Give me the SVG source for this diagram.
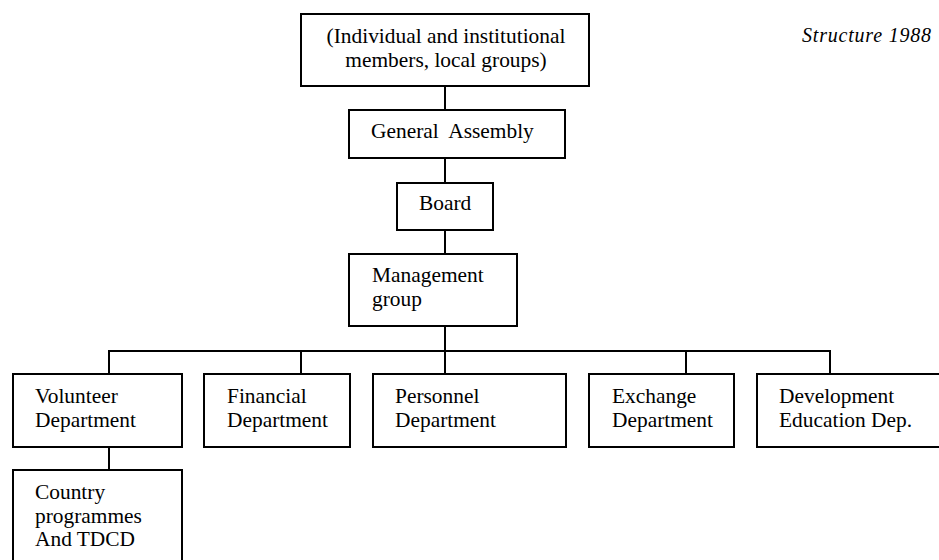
<svg xmlns="http://www.w3.org/2000/svg" width="939" height="560" viewBox="0 0 939 560">
  <style>
    .box { fill: #ffffff; stroke: #000000; stroke-width: 2; }
    .lbl { font-family: "Liberation Serif", "Times New Roman", serif; font-size: 21.4px; fill: #000000; }
    .mid { text-anchor: middle; }
    .wire { fill: none; stroke: #000000; stroke-width: 2; }
    .note { font-family: "Liberation Serif", "Times New Roman", serif; font-style: italic; font-size: 20px; fill: #000000; }
  </style>
  <rect width="939" height="560" fill="#ffffff"/>

  <g id="connectors">
    <line class="wire" x1="445" y1="86" x2="445" y2="110"/>
    <line class="wire" x1="445" y1="158" x2="445" y2="183"/>
    <line class="wire" x1="445" y1="230" x2="445" y2="254"/>
    <line class="wire" x1="445" y1="326" x2="445" y2="351"/>
    <line class="wire" x1="109" y1="351" x2="830" y2="351"/>
    <line class="wire" x1="109" y1="350" x2="109" y2="374"/>
    <line class="wire" x1="301" y1="351" x2="301" y2="374"/>
    <line class="wire" x1="445" y1="351" x2="445" y2="374"/>
    <line class="wire" x1="686" y1="351" x2="686" y2="374"/>
    <line class="wire" x1="830" y1="350" x2="830" y2="374"/>
    <line class="wire" x1="109" y1="447" x2="109" y2="470"/>
  </g>

  <g id="members">
    <rect class="box" x="301" y="14" width="288" height="72"/>
    <text class="lbl mid" x="446" y="43">(Individual and institutional</text>
    <text class="lbl mid" x="446" y="67">members, local groups)</text>
  </g>

  <g id="general-assembly">
    <rect class="box" x="349" y="110" width="216" height="48"/>
    <text class="lbl" x="371" y="138">General&#160; Assembly</text>
  </g>

  <g id="board">
    <rect class="box" x="397" y="183" width="96" height="47"/>
    <text class="lbl" x="419" y="210">Board</text>
  </g>

  <g id="management">
    <rect class="box" x="349" y="254" width="168" height="72"/>
    <text class="lbl" x="372" y="282">Management</text>
    <text class="lbl" x="372" y="306">group</text>
  </g>

  <g id="volunteer">
    <rect class="box" x="13" y="374" width="169" height="73"/>
    <text class="lbl" x="35" y="403">Volunteer</text>
    <text class="lbl" x="35" y="427">Department</text>
  </g>

  <g id="financial">
    <rect class="box" x="204" y="374" width="146" height="73"/>
    <text class="lbl" x="227" y="403">Financial</text>
    <text class="lbl" x="227" y="427">Department</text>
  </g>

  <g id="personnel">
    <rect class="box" x="373" y="374" width="193" height="73"/>
    <text class="lbl" x="395" y="403">Personnel</text>
    <text class="lbl" x="395" y="427">Department</text>
  </g>

  <g id="exchange">
    <rect class="box" x="589" y="374" width="145" height="73"/>
    <text class="lbl" x="612" y="403">Exchange</text>
    <text class="lbl" x="612" y="427">Department</text>
  </g>

  <g id="development-education">
    <rect class="box" x="757" y="374" width="200" height="73"/>
    <text class="lbl" x="779" y="403">Development</text>
    <text class="lbl" x="779" y="427">Education Dep.</text>
  </g>

  <g id="country-programmes">
    <rect class="box" x="13" y="470" width="169" height="110"/>
    <text class="lbl" x="35" y="499">Country</text>
    <text class="lbl" x="35" y="523">programmes</text>
    <text class="lbl" x="35" y="546">And TDCD</text>
  </g>

  <text class="note" x="802" y="42" textLength="129" lengthAdjust="spacing">Structure 1988</text>
</svg>
